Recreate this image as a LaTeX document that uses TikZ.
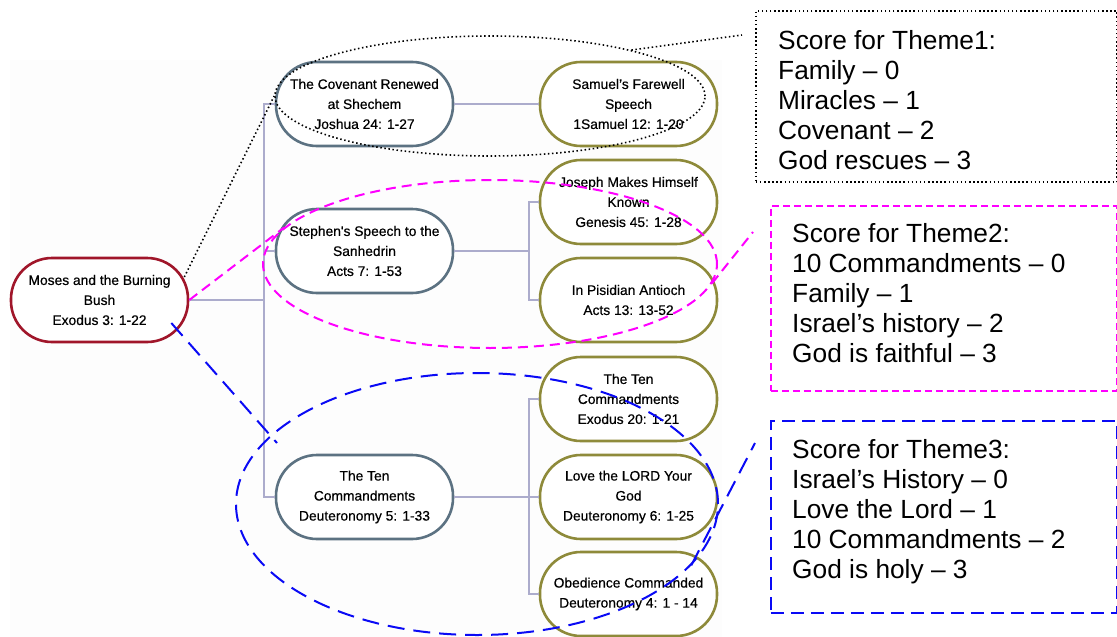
\documentclass[tikz,border=0pt]{standalone}
\usepackage{fontspec}
\setmainfont{Liberation Sans}
\newfontfamily\topicfont[FakeBold=0.5]{Liberation Sans}
\usetikzlibrary{shapes.geometric,calc}
\definecolor{rootred}{RGB}{160,22,42}
\definecolor{slate}{RGB}{92,114,130}
\definecolor{olivebd}{RGB}{142,138,58}
\definecolor{linkgray}{RGB}{172,172,204}
\definecolor{panel}{RGB}{253,253,253}
\definecolor{magentaln}{RGB}{255,0,255}
\definecolor{blueln}{RGB}{10,10,245}
\begin{document}
\begin{tikzpicture}[x=1pt,y=-1pt,
  topic/.style={draw, line width=2.6pt, rounded corners=41pt, fill=white,
    minimum width=177pt, minimum height=84pt, inner sep=1pt, align=center,
    font=\topicfont\fontsize{13.8}{20}\selectfont},
  root/.style={topic, draw=rootred},
  midtopic/.style={topic, draw=slate},
  leaftopic/.style={topic, draw=olivebd},
  link/.style={draw=linkgray, line width=1.4pt},
  grpdot/.style={draw=black, line width=1.6pt, dash pattern=on 1.5pt off 2.6pt},
  grpmag/.style={draw=magentaln, line width=2pt, dash pattern=on 10pt off 6pt},
  grpblue/.style={draw=blueln, line width=2pt, dash pattern=on 17pt off 9pt},
  ring/.style={ellipse, inner sep=0pt},
  frame/.style={anchor=north west, inner sep=0pt},
  scoretext/.style={anchor=north west, inner sep=0pt, align=left,
    font=\fontsize{26.3}{30}\selectfont}
]
\useasboundingbox (0,0) rectangle (1117,637);
\fill[panel] (10,60) rectangle (722,637);

% tree of passages
\node[root]      (moses) at (99.5,300) {Moses and the Burning\\Bush\\Exodus 3: 1-22};
\node[midtopic]  (cov)   at (364.5,104) {The Covenant Renewed\\at Shechem\\Joshua 24: 1-27};
\node[midtopic]  (steph) at (364.5,251) {Stephen{\char"0027}s Speech to the\\Sanhedrin\\Acts 7: 1-53};
\node[midtopic]  (deut)  at (364.5,497) {The Ten\\Commandments\\Deuteronomy 5: 1-33};
\node[leaftopic] (sam)   at (628.5,104) {Samuel’s Farewell\\Speech\\1Samuel 12: 1-20};
\node[leaftopic] (jos)   at (628.5,202) {Joseph Makes Himself\\Known\\Genesis 45: 1-28};
\node[leaftopic] (pis)   at (628.5,300) {In Pisidian Antioch\\Acts 13: 13-52};
\node[leaftopic] (tenex) at (628.5,399) {The Ten\\Commandments\\Exodus 20: 1-21};
\node[leaftopic] (love)  at (628.5,497) {Love the LORD Your\\God\\Deuteronomy 6: 1-25};
\node[leaftopic] (obed)  at (628.5,594) {Obedience Commanded\\Deuteronomy 4: 1 - 14};

% elbow connectors
\coordinate (ta) at (264,300);
\coordinate (tb) at (529,251);
\coordinate (tc) at (529,497);
\draw[link] (moses.east) -- (ta);
\draw[link] (cov.west) -| (ta) |- (deut.west);
\draw[link] (steph.west) -- (steph.west -| ta);
\draw[link] (cov.east) -- (sam.west);
\draw[link] (steph.east) -- (tb);
\draw[link] (jos.west) -| (tb) |- (pis.west);
\draw[link] (deut.east) -- (love.west);
\draw[link] (tenex.west) -| (tc) |- (obed.west);

% theme groupings
\node[ring, grpdot,  minimum width=430pt, minimum height=120pt] (g1) at (490,96) {};
\node[ring, grpmag,  minimum width=454pt, minimum height=168pt] (g2) at (490,264) {};
\node[ring, grpblue, minimum width=482pt, minimum height=262pt] (g3) at (477,504) {};

% score panels
\node[frame, grpdot, minimum width=361pt, minimum height=171pt] (box1) at (755,10) {};
\node[frame, draw=magentaln, line width=1.5pt, dash pattern=on 7pt off 4pt,
      minimum width=346pt, minimum height=185pt] (box2) at (770,205) {};
\node[frame, draw=blueln, line width=1.8pt, dash pattern=on 13pt off 7pt,
      minimum width=346pt, minimum height=192pt] (box3) at (770,420) {};

\node[scoretext] (t1) at (778,30) {Score for Theme1:\\Family – 0\\Miracles – 1\\Covenant – 2\\God rescues – 3};
\node[scoretext] (t2) at (792,223) {Score for Theme2:\\10 Commandments – 0\\Family – 1\\Israel’s history – 2\\God is faithful – 3};
\node[scoretext] (t3) at (792,439) {Score for Theme3:\\Israel’s History – 0\\Love the Lord – 1\\10 Commandments – 2\\God is holy – 3};

% callout leaders
\coordinate (m1) at ($(moses.east)+(-5,-23)$);
\coordinate (m3) at ($(moses.east)+(-18,23)$);
\coordinate (c1) at (742,35);
\coordinate (c2) at (753,232);
\coordinate (c3) at (755,443);
\coordinate (b3) at (277,443);
\draw[grpdot]  (m1) -- (g1.west);
\draw[grpdot]  (g1.18) -- (c1);
\draw[grpmag]  (moses.east) -- (g2.170);
\draw[grpmag]  (g2.-5.5) -- (c2);
\draw[grpblue] (m3) -- (b3);
\draw[grpblue] (g3.-16) -- (c3);
\end{tikzpicture}
\end{document}
